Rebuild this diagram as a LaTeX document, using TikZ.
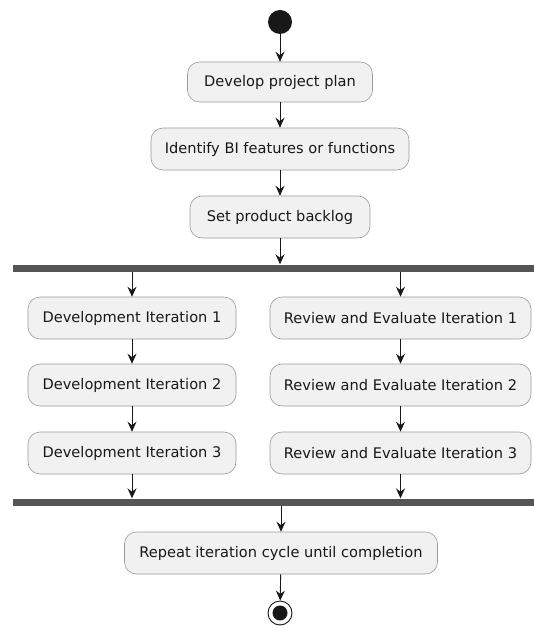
\documentclass[tikz,border=0pt]{standalone}
\usepackage{fontspec}
\setmainfont{DejaVu Sans}
\usetikzlibrary{arrows.meta}
\definecolor{boxfill}{HTML}{F1F1F1}
\definecolor{boxline}{HTML}{9A9A9A}
\definecolor{ink}{HTML}{181818}
\definecolor{barfill}{HTML}{555555}
\begin{document}
\begin{tikzpicture}[x=1pt,y=-1pt,
  act/.style={draw=boxline, fill=boxfill, rounded corners=12pt, minimum height=42pt, inner sep=0pt, font=\fontsize{14.6}{17}\selectfont, text=ink, line width=0.6pt},
  flow/.style={draw=ink, line width=0.9pt, -{Stealth[length=10pt,width=9pt,inset=3.5pt]}},
  bar/.style={fill=barfill, draw=none, minimum height=7pt, minimum width=521pt, inner sep=0pt}
]
\useasboundingbox (0,0) rectangle (534,628);
\node[circle, fill=ink, minimum size=24pt, inner sep=0pt] (start) at (280,22) {};
\node[act, minimum width=185pt, minimum height=40pt] (a1) at (280,82) {Develop project plan};
\node[act, minimum width=258pt] (a2) at (280,149) {Identify BI features or functions};
\node[act, minimum width=180pt] (a3) at (280,217) {Set product backlog};
\node[bar] (fork) at (273.5,268) {};
\node[act, minimum width=208pt] (d1) at (132,318) {Development Iteration 1};
\node[act, minimum width=208pt] (d2) at (132,385) {Development Iteration 2};
\node[act, minimum width=208pt] (d3) at (132,453) {Development Iteration 3};
\node[act, minimum width=261pt] (r1) at (400.5,318) {Review and Evaluate Iteration 1};
\node[act, minimum width=261pt] (r2) at (400.5,385) {Review and Evaluate Iteration 2};
\node[act, minimum width=261pt] (r3) at (400.5,453) {Review and Evaluate Iteration 3};
\node[bar] (join) at (273.5,502) {};
\node[act, minimum width=313pt] (rep) at (281,553) {Repeat iteration cycle until completion};
\node[circle, draw=ink, fill=white, line width=0.9pt, minimum size=24pt, inner sep=0pt] (end) at (280,613) {};
\node[circle, fill=ink, minimum size=15pt, inner sep=0pt] (endin) at (end.center) {};

\draw[flow] (start) -- (a1);
\draw[flow] (a1) -- (a2);
\draw[flow] (a2) -- (a3);
\draw[flow] (a3.south) -- (a3.south |- fork.north);
\draw[flow] (fork.south -| d1.north) -- (d1.north);
\draw[flow] (fork.south -| r1.north) -- (r1.north);
\draw[flow] (d1) -- (d2);
\draw[flow] (d2) -- (d3);
\draw[flow] (r1) -- (r2);
\draw[flow] (r2) -- (r3);
\draw[flow] (d3.south) -- (d3.south |- join.north);
\draw[flow] (r3.south) -- (r3.south |- join.north);
\draw[flow] (join.south -| rep.north) -- (rep.north);
\draw[flow] (rep) -- (end);
\end{tikzpicture}
\end{document}
